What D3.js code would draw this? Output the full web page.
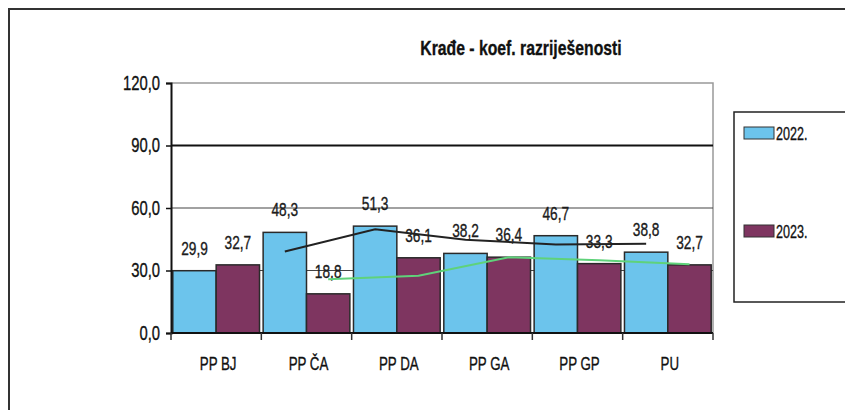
<!DOCTYPE html>
<html>
<head>
<meta charset="utf-8">
<script src="https://cdn.jsdelivr.net/npm/d3@7"></script>
<style>
  body { margin: 0; background: #fff; }
  text { font-family: "Liberation Sans", Arial, sans-serif; fill: #111; stroke: #111; stroke-width: 0.35px; }
</style>
</head>
<body>
<script>
// data
var categories = ["PP BJ", "PP ČA", "PP DA", "PP GA", "PP GP", "PU"];
var years = ["2022.", "2023."];
var values2022 = [29.9, 48.3, 51.3, 38.2, 46.7, 38.8];
var values2023 = [32.7, 18.8, 36.1, 36.4, 33.3, 32.7];
// trend lines (moving average look) as drawn
var trend2022 = [null, 39.1, 49.8, 44.8, 42.5, 42.8];
var trend2023 = [null, 25.8, 27.5, 36.3, 34.9, 33.0];
var yTicks = [0, 30, 60, 90, 120];

var colors = ["#6cc4ec", "#7e3560"];
var fmt = function(v){ return d3.format(".1f")(v).replace(".", ","); };

//squeeze text horizontally to mimic the narrow font of the original
function condense(sel, k){
    sel.each(function(){
        var w = this.getComputedTextLength();
        d3.select(this).attr("textLength", w * k).attr("lengthAdjust", "spacingAndGlyphs");
    });
}

window.onload = function(){
    var svg = d3.select("body").append("svg")
        .attr("width", 845)
        .attr("height", 410);

    //outer chart frame
    svg.append("rect")
        .attr("x", 9).attr("y", 9)
        .attr("width", 900).attr("height", 500)
        .style("fill", "none")
        .style("stroke", "#333")
        .style("stroke-width", 2);

    var left = 171, right = 713, top = 83, bottom = 333;

    var y = d3.scaleLinear()
        .domain([0, 120])
        .range([bottom, top]);

    var x0 = d3.scaleBand()
        .domain(categories)
        .range([left, right])
        .paddingInner(0.04)
        .paddingOuter(0.02);

    var x1 = d3.scaleBand()
        .domain([0, 1])
        .range([0, x0.bandwidth()]);

    //plot area border (top + right)
    svg.append("path")
        .attr("d", "M" + left + "," + top + "H" + right + "V" + bottom)
        .style("fill", "none")
        .style("stroke", "#999")
        .style("stroke-width", 1.5);

    //gridlines
    svg.selectAll(".grid")
        .data(yTicks.filter(function(d){ return d > 0 && d < 120; }))
        .enter()
        .append("line")
        .attr("class", "grid")
        .attr("x1", left).attr("x2", right)
        .attr("y1", function(d){ return y(d); })
        .attr("y2", function(d){ return y(d); })
        .style("stroke", function(d){ return d == 90 ? "#111" : "#444"; })
        .style("stroke-width", function(d){ return d == 90 ? 2 : 1.2; });

    //bars
    var groups = svg.selectAll(".group")
        .data(categories)
        .enter()
        .append("g")
        .attr("class", "group")
        .attr("transform", function(d){ return "translate(" + x0(d) + ",0)"; });

    var series = [values2022, values2023];
    groups.selectAll("rect")
        .data(function(d, i){ return series.map(function(s, j){ return { s: j, v: s[i] }; }); })
        .enter()
        .append("rect")
        .attr("x", function(d){ return x1(d.s); })
        .attr("y", function(d){ return y(d.v); })
        .attr("width", x1.bandwidth())
        .attr("height", function(d){ return y(0) - y(d.v); })
        .style("fill", function(d){ return colors[d.s]; })
        .style("stroke", "#2a2a2a")
        .style("stroke-width", 1.5);

    //trend lines
    var trends = [trend2022, trend2023];
    var trendColors = ["#222", "#5fd27a"];
    trends.forEach(function(t, j){
        var pts = [];
        t.forEach(function(v, i){
            if (v != null) pts.push([x0(categories[i]) + x1(j) + x1.bandwidth() / 2, y(v)]);
        });
        svg.append("path")
            .datum(pts)
            .attr("d", d3.line())
            .style("fill", "none")
            .style("stroke", trendColors[j])
            .style("stroke-width", 2);
    });

    //value labels
    var lbls = groups.selectAll(".lbl")
        .data(function(d, i){ return series.map(function(s, j){ return { s: j, v: s[i] }; }); })
        .enter()
        .append("text")
        .attr("class", "lbl")
        .attr("x", function(d){ return x1(d.s) + x1.bandwidth() / 2; })
        .attr("y", function(d){ return y(d.v) - 16; })
        .attr("text-anchor", "middle")
        .style("font-size", "19px")
        .style("fill", "#222")
        .text(function(d){ return fmt(d.v); });
    condense(lbls, 0.72);

    //y axis
    var yAxis = d3.axisLeft(y).tickValues(yTicks).tickFormat(fmt).tickSize(5).tickPadding(6);
    var ya = svg.append("g")
        .attr("transform", "translate(" + left + ",0)")
        .call(yAxis);
    ya.select(".domain").style("stroke", "#111").style("stroke-width", 2);
    ya.selectAll(".tick line").style("stroke", "#111").style("stroke-width", 1.5);
    ya.selectAll("text").style("font-size", "20px").style("fill", "#111").style("font-family", "Liberation Sans, Arial, sans-serif");
    condense(ya.selectAll("text"), 0.74);

    //x axis: ticks at category boundaries
    var bounds = d3.range(categories.length + 1).map(function(i){ return left + i * (right - left) / categories.length; });
    svg.append("line")
        .attr("x1", left).attr("x2", right)
        .attr("y1", bottom).attr("y2", bottom)
        .style("stroke", "#111").style("stroke-width", 2);
    svg.selectAll(".xtick")
        .data(bounds)
        .enter()
        .append("line")
        .attr("x1", function(d){ return d; }).attr("x2", function(d){ return d; })
        .attr("y1", bottom).attr("y2", bottom + 7)
        .style("stroke", "#333").style("stroke-width", 1.5);
    var xl = svg.selectAll(".xlbl")
        .data(categories)
        .enter()
        .append("text")
        .attr("x", function(d){ return x0(d) + x0.bandwidth() / 2 + 2; })
        .attr("y", 370)
        .attr("text-anchor", "middle")
        .style("font-size", "19px")
        .text(function(d){ return d; });
    condense(xl, 0.7);

    //title
    var title = svg.append("text")
        .attr("x", 521)
        .attr("y", 55)
        .attr("text-anchor", "middle")
        .style("font-size", "21px")
        .style("font-weight", "bold")
        .text("Krađe - koef. razriješenosti");
    condense(title, 0.75);

    //legend
    svg.append("rect")
        .attr("x", 734).attr("y", 112)
        .attr("width", 140).attr("height", 190)
        .style("fill", "#fff")
        .style("stroke", "#222")
        .style("stroke-width", 1.5);
    var legY = [133, 231];
    years.forEach(function(yr, j){
        svg.append("rect")
            .attr("x", 744).attr("y", legY[j] - 6)
            .attr("width", 30).attr("height", 12)
            .style("fill", colors[j])
            .style("stroke", "#333");
        var lt = svg.append("text")
            .attr("x", 776).attr("y", legY[j] + 7)
            .style("font-size", "19px")
            .text(yr);
        condense(lt, 0.66);
    });
};
</script>
</body>
</html>
